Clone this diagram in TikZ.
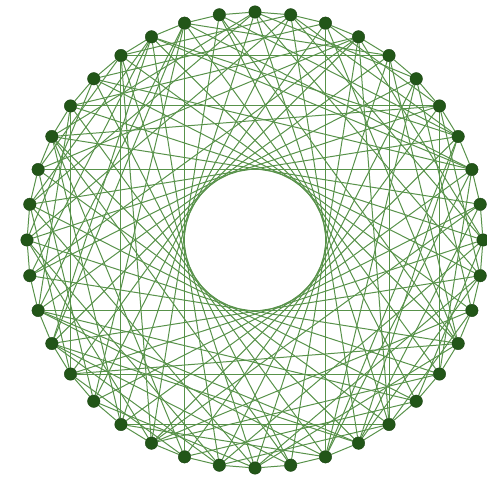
\documentclass[tikz,border=0pt]{standalone}
\usepackage{tikz}
\usetikzlibrary{backgrounds, calc}
\definecolor{cgDot}{RGB}{34,86,24}
\definecolor{cgEdge}{RGB}{88,146,74}

% extra chord lengths, repeated every ten vertices
\def\chordA{{5,9,11,13,12,7,8,10,6,14}}
\def\chordB{{11,6,4,7,9,13,5,11,10,8}}

\begin{document}
\begin{tikzpicture}[x=1pt, y=1pt,
    vert/.style={circle, fill=cgDot, draw=cgDot!80!black, line width=0.4pt,
                 inner sep=0pt, minimum size=12.5pt},
    edge/.style={draw=cgEdge, line width=1pt}
]
\useasboundingbox (0,0) rectangle (487,479);

% 40 vertices on a circle, vertex 0 at the top
\foreach \i in {0,...,39}
    \node[vert] (v\i) at ($(255,239)+({90-9*\i}:228)$) {};

% ring, long chords round the hole, and two mixed chords per vertex
\begin{scope}[on background layer]
\foreach \i in {0,...,39} {
    \pgfmathtruncatemacro{\j}{mod(\i+1,40)}
    \pgfmathtruncatemacro{\h}{mod(\i+16,40)}
    \pgfmathtruncatemacro{\a}{mod(\i+\chordA[mod(\i,10)],40)}
    \pgfmathtruncatemacro{\b}{mod(\i+\chordB[mod(\i,10)],40)}
    \draw[edge] (v\i) -- (v\j);
    \draw[edge] (v\i) -- (v\h);
    \draw[edge] (v\i) -- (v\a);
    \draw[edge] (v\i) -- (v\b);
}
\end{scope}

\end{tikzpicture}
\end{document}
